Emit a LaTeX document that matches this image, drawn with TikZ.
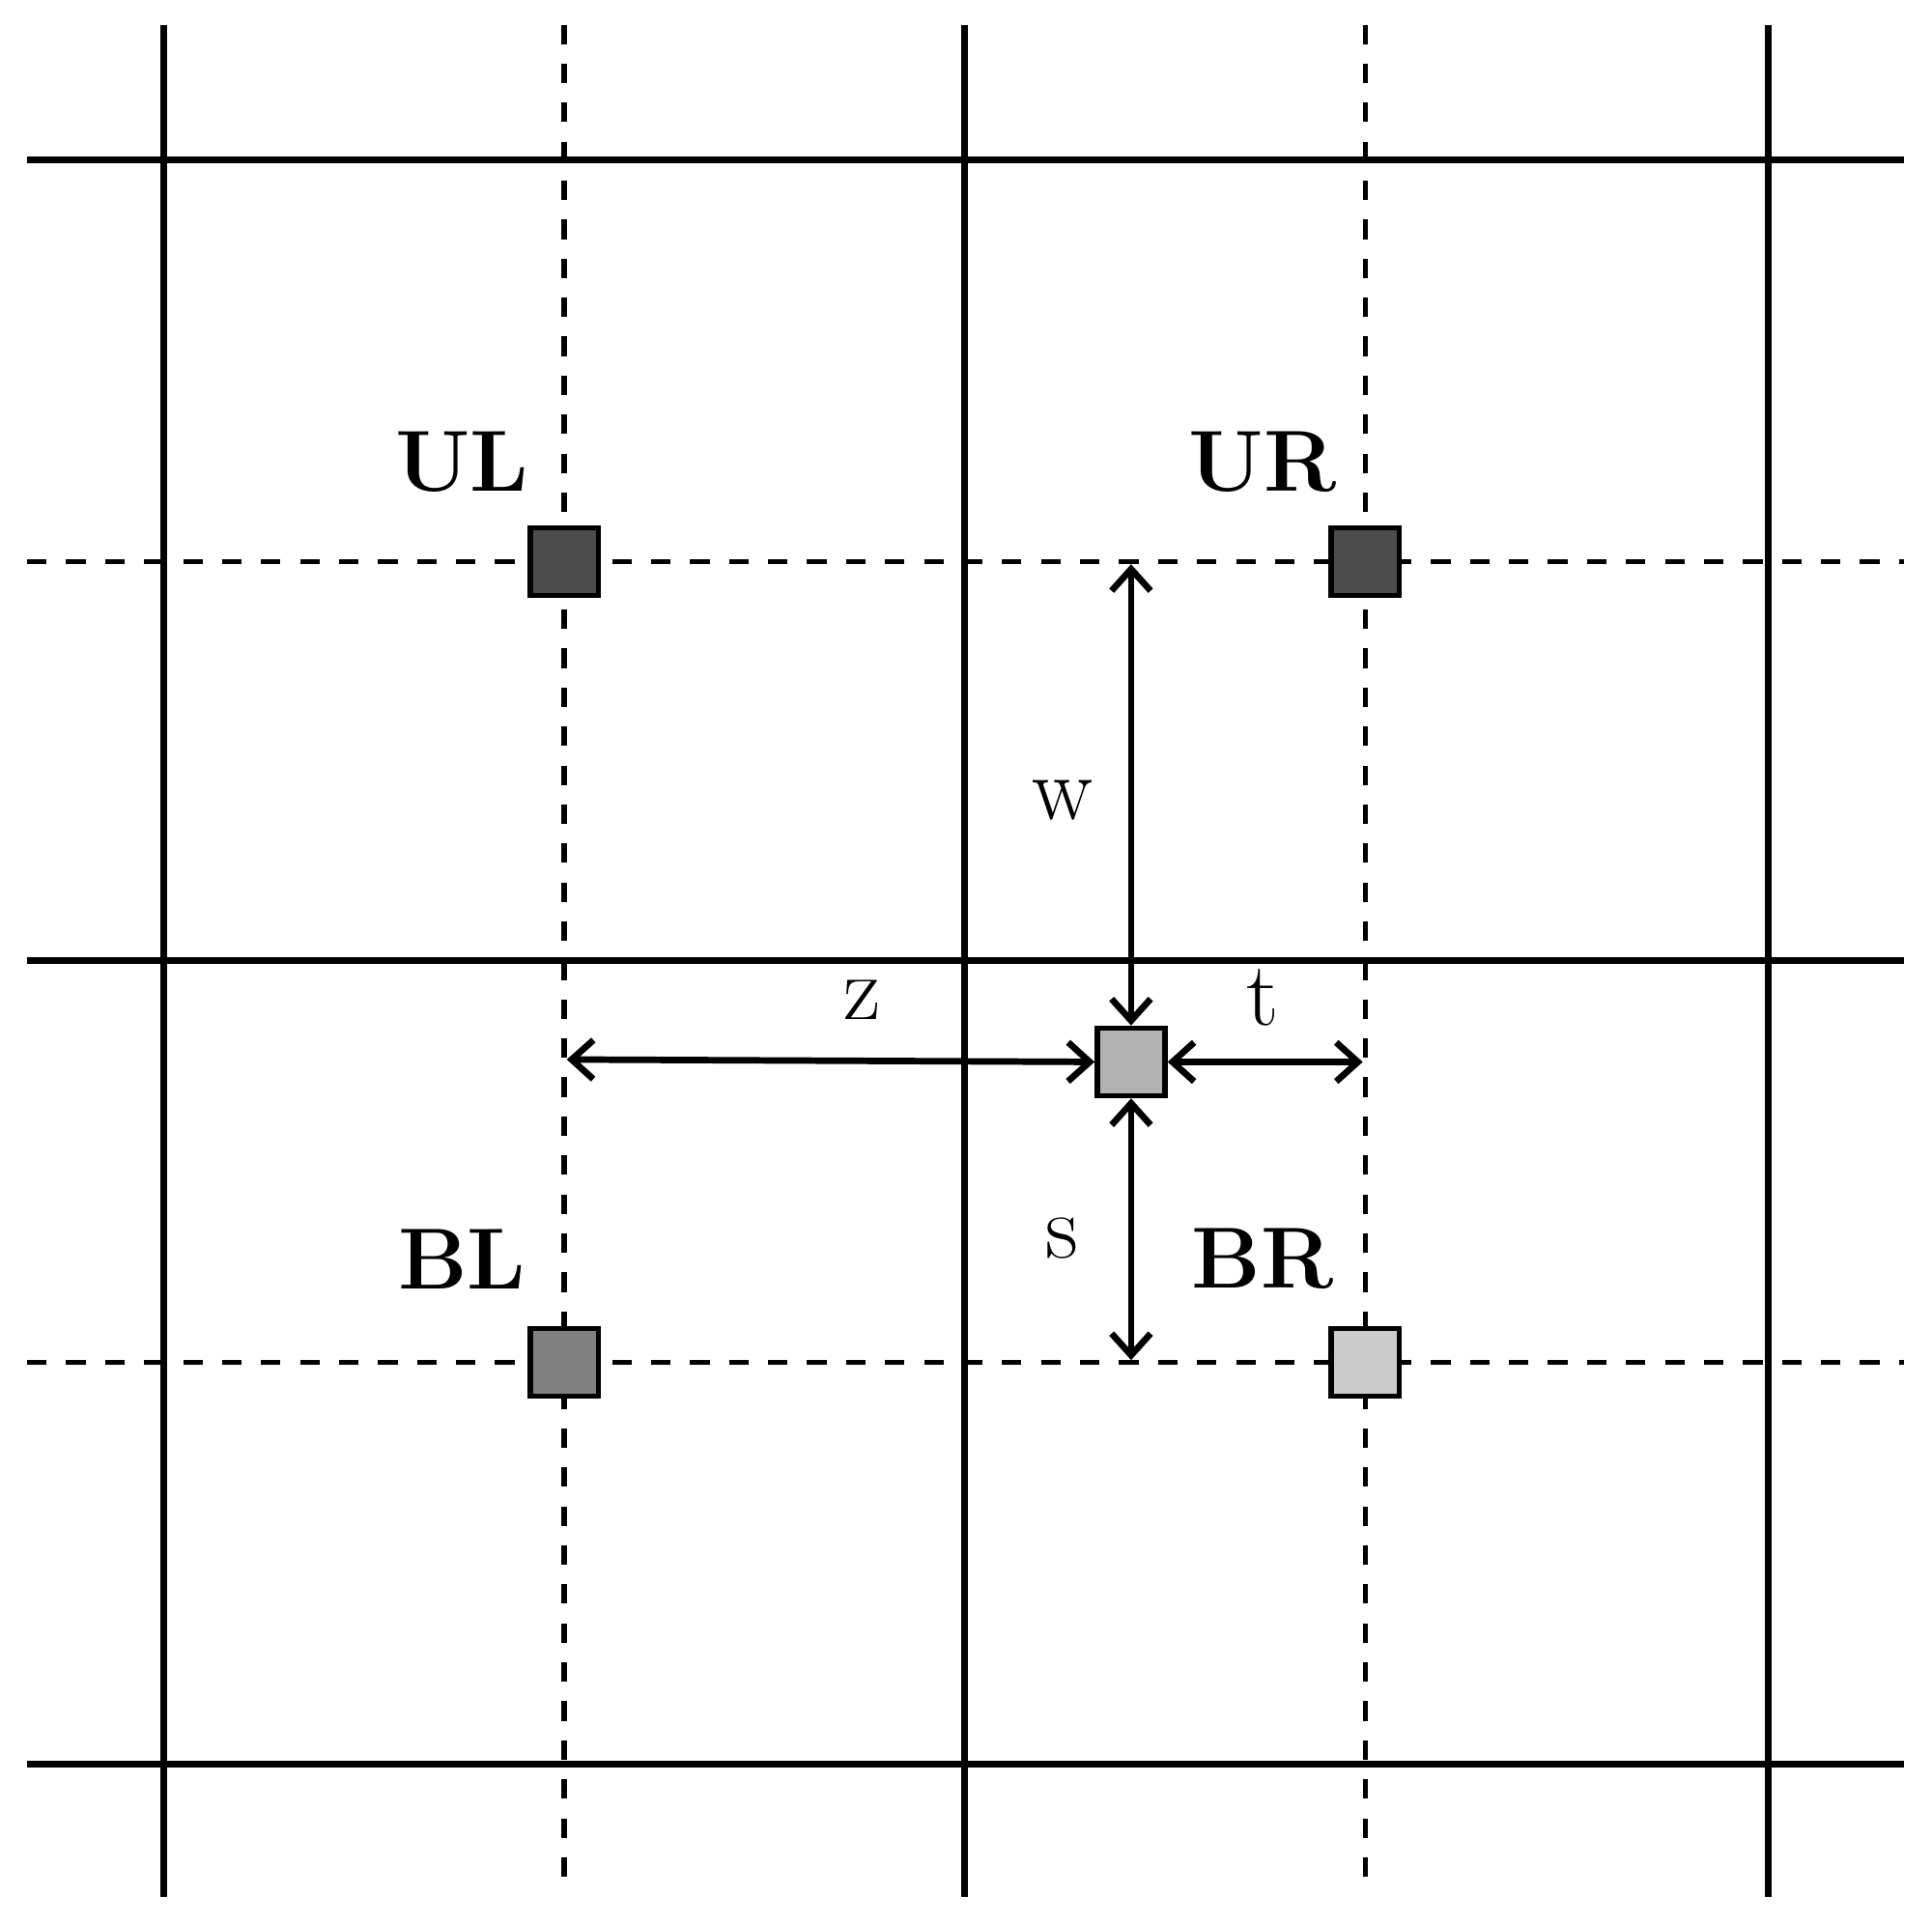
\documentclass[tikz,border=0pt]{standalone}
\usetikzlibrary{arrows.meta}
\begin{document}
\begin{tikzpicture}[x=0.01cm,y=-0.01cm,
  solidline/.style={line width=1.6pt},
  dashline/.style={line width=1.2pt,dash pattern=on 4.5pt off 4.5pt},
  sq/.style={draw,line width=1.2pt,minimum size=0.55cm,inner sep=0pt},
  lab/.style={font=\fontsize{20}{24}\selectfont\bfseries},
  let/.style={font=\fontsize{21}{24}\selectfont},
  dim/.style={line width=1.5pt,{Straight Barb[length=5pt,width=9pt]}-{Straight Barb[length=5pt,width=9pt]}}]
\useasboundingbox (0,0) rectangle (1568,1561);
\foreach \x in {133,783,1435} \draw[solidline] (\x,20) -- (\x,1540);
\foreach \y in {130,780,1432} \draw[solidline] (22,\y) -- (1545,\y);
\foreach \x in {458,1108} \draw[dashline] (\x,20) -- (\x,1535);
\foreach \y in {456,1106} \draw[dashline] (22,\y) -- (1545,\y);
\node[sq,fill=black!70] (ul) at (458,456) {};
\node[sq,fill=black!70] (ur) at (1108,456) {};
\node[sq,fill=black!50] (bl) at (458,1106) {};
\node[sq,fill=black!20] (br) at (1108,1106) {};
\node[sq,fill=black!30] (c) at (918,862) {};
\node[lab] at (375,375) {UL};
\node[lab] at (1025,375) {UR};
\node[lab] at (375,1022) {BL};
\node[lab] at (1025,1022) {BR};
\coordinate (wt) at (918,458);
\coordinate (zl) at (460,860);
\coordinate (tr) at (1106,862);
\coordinate (sb) at (918,1104);
\draw[dim] (wt) -- (c.north);
\draw[dim] (zl) -- (c.west);
\draw[dim] (c.east) -- (tr);
\draw[dim] (c.south) -- (sb);
\node[let] at (862,650) {w};
\node[let] at (700,812) {z};
\node[let] at (1025,810) {t};
\node[let] at (862,1005) {s};
\end{tikzpicture}
\end{document}
